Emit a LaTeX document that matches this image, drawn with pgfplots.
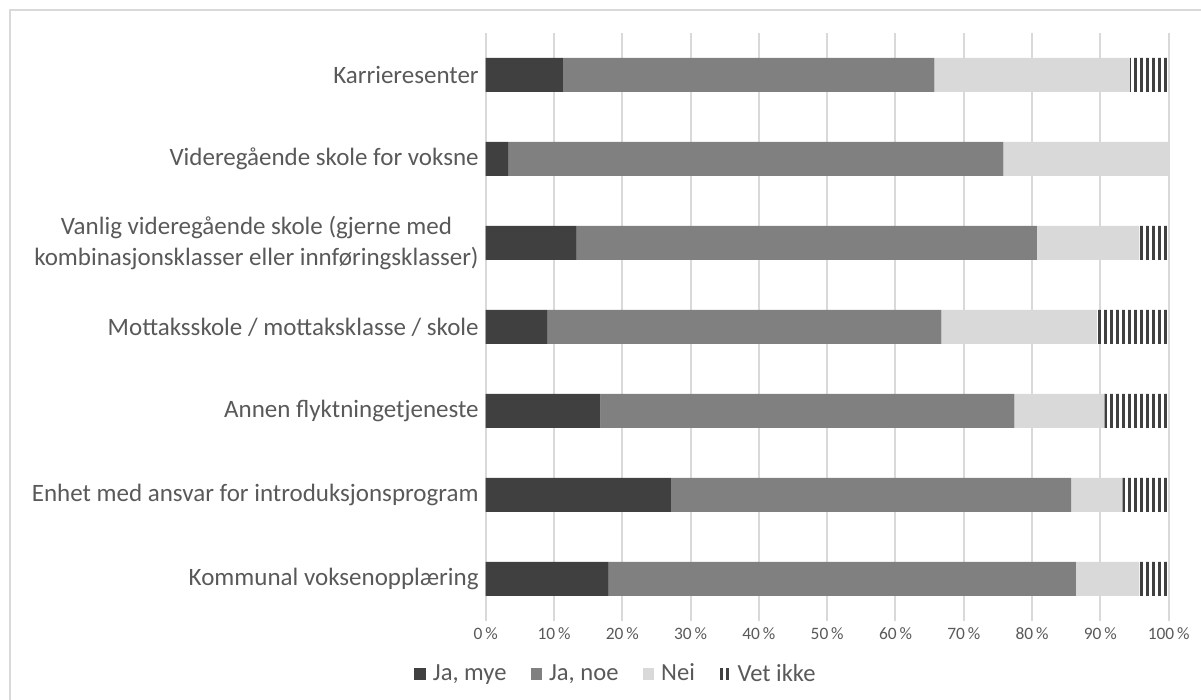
\documentclass[border=0pt]{standalone}
\usepackage{pgfplots}
\pgfplotsset{compat=1.18}
\usepackage{fontspec}
\setmainfont{Carlito}
\usetikzlibrary{patterns.meta}
\definecolor{txt}{HTML}{595959}
\definecolor{cmye}{HTML}{404040}
\definecolor{cnoe}{HTML}{808080}
\definecolor{cnei}{HTML}{D9D9D9}
\definecolor{cgrid}{HTML}{D9D9D9}
\begin{document}
\begin{tikzpicture}[x=1pt,y=1pt]
\path[use as bounding box] (0,0) rectangle (600.5,350);
\draw[color=cgrid, line width=0.8pt] (5,0) -- (5,345) -- (600.5,345);
\begin{axis}[
  at={(242.85pt,39.5pt)}, anchor=south west,
  scale only axis, width=341.5pt, height=294pt,
  xbar stacked, bar width=17pt,
  xmin=0, xmax=100, ymin=-0.5, ymax=6.5,
  ytick={0,1,2,3,4,5,6},
  yticklabels={Kommunal voksenopplæring,Enhet med ansvar for introduksjonsprogram,Annen flyktningetjeneste,Mottaksskole / mottaksklasse / skole,{Vanlig videregående skole (gjerne med\\kombinasjonsklasser eller innføringsklasser)},Videregående skole for voksne,Karrieresenter},
  xtick={0,10,...,100},
  xticklabels={0\,\%,10\,\%,20\,\%,30\,\%,40\,\%,50\,\%,60\,\%,70\,\%,80\,\%,90\,\%,100\,\%},
  yticklabel style={font=\fontsize{12.5}{15.3}\selectfont, text=txt, align=center},
  xticklabel style={font=\fontsize{8.7}{10}\selectfont, text=txt},
  ytick style={draw=none}, xtick style={draw=none},
  axis line style={draw=none},
  xmajorgrids, grid style={color=cgrid, line width=1pt},
  legend columns=4,
  legend style={at={(0.1922,-0.0901)}, anchor=center, draw=none, fill=none,
    font=\fontsize{12.3}{14}\selectfont, text=txt,
    /tikz/every odd column/.append style={column sep=1.5pt},
    /tikz/every even column/.append style={column sep=10pt},
    inner sep=0pt},
  legend cell align=left,
  legend image code/.code={\fill[#1] (0pt,-2.9pt) rectangle (5.8pt,2.9pt);},
]
\addplot[fill=cmye, draw=none] coordinates {(18.0,0) (27.1,1) (16.8,2) (9.0,3) (13.3,4) (3.3,5) (11.3,6)};
\addplot[fill=cnoe, draw=none] coordinates {(68.4,0) (58.6,1) (60.6,2) (57.7,3) (67.4,4) (72.5,5) (54.4,6)};
\addplot[fill=cnei, draw=none] coordinates {(9.3,0) (7.5,1) (13.2,2) (22.8,3) (15.0,4) (24.2,5) (28.6,6)};
\addplot[fill=white, draw=none, pattern={Lines[angle=90, distance=3pt, line width=1.3pt, xshift=0.7pt]}, pattern color=cmye] coordinates {(4.3,0) (6.8,1) (9.4,2) (10.5,3) (4.3,4) (0,5) (5.7,6)};
\legend{{Ja, mye},{Ja, noe},Nei,Vet ikke}
\end{axis}
\end{tikzpicture}
\end{document}
